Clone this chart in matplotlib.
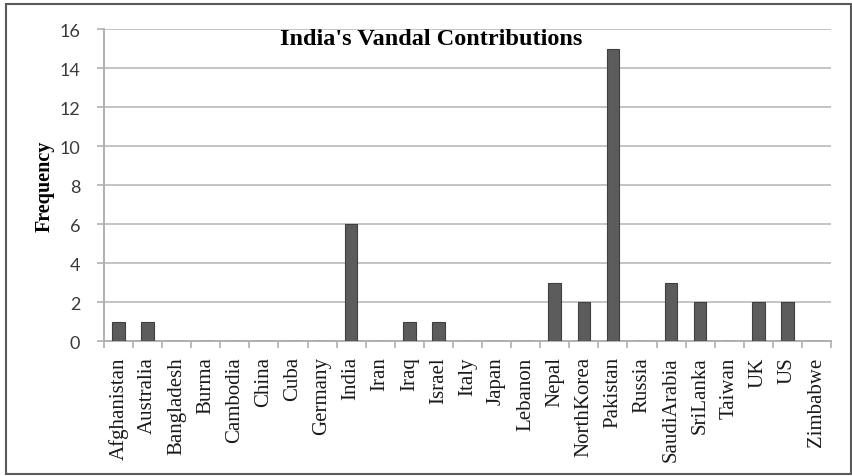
import matplotlib
matplotlib.use("Agg")
import matplotlib.pyplot as plt
from matplotlib.patches import Rectangle
import numpy as np

countries = ["Afghanistan", "Australia", "Bangladesh", "Burma", "Cambodia", "China",
             "Cuba", "Germany", "India", "Iran", "Iraq", "Israel", "Italy", "Japan",
             "Lebanon", "Nepal", "NorthKorea", "Pakistan", "Russia", "SaudiArabia",
             "SriLanka", "Taiwan", "UK", "US", "Zimbabwe"]
frequency = [1, 1, 0, 0, 0, 0, 0, 0, 6, 0, 1, 1, 0, 0, 0, 3, 2, 15, 0, 3, 2, 0, 2, 2, 0]
y_ticks = [0, 2, 4, 6, 8, 10, 12, 14, 16]

fig = plt.figure(figsize=(8.53, 4.77), dpi=100)
fig.patch.set_facecolor("white")

# chart frame
fig.patches.append(Rectangle((0.0075, 0.0045), 0.990, 0.985, transform=fig.transFigure,
                             fill=False, edgecolor="#5a5a5a", linewidth=1.5))

ax = fig.add_axes([0.1219, 0.283, 0.8523, 0.654])
x = np.arange(len(countries))
ax.bar(x, frequency, width=0.43, color="#5c5c5c", edgecolor="#3f3f3f",
       linewidth=0.8, zorder=3)

ax.set_xlim(-0.5, len(countries) - 0.5)
ax.set_ylim(0, 16)
ax.set_yticks(y_ticks)
ax.set_yticklabels([str(v) for v in y_ticks], fontfamily="Lato", fontsize=13,
                   color="#3a3a3a")
ax.yaxis.grid(True, color="#c4c4c4", linewidth=1.4, zorder=0)
ax.set_axisbelow(True)

# category boundaries carry the x ticks
ax.set_xticks(np.arange(len(countries) + 1) - 0.5)
ax.set_xticklabels([])
ax.set_xticks(x, minor=True)
ax.set_xticklabels(countries, minor=True, rotation=90, fontfamily="Liberation Serif",
                   fontsize=15, color="#1a1a1a", va="top", ha="center")
ax.tick_params(axis="x", which="minor", length=0, pad=11)
ax.tick_params(axis="x", which="major", length=5, width=1.2, color="#b0b0b0",
               direction="out")
ax.tick_params(axis="y", length=5, width=1.2, color="#b0b0b0", direction="out", pad=12)

for side in ("top", "right"):
    ax.spines[side].set_visible(False)
for side in ("left", "bottom"):
    ax.spines[side].set_color("#b0b0b0")
    ax.spines[side].set_linewidth(1.4)

fig.text(0.0528, 0.610, "Frequency", rotation=90, ha="center", va="center",
         fontfamily="Liberation Serif", fontweight="bold", fontsize=14.5)
fig.text(0.505, 0.918, "India's Vandal Contributions", ha="center", va="center",
         fontfamily="Liberation Serif", fontweight="bold", fontsize=17.5)

fig.savefig("out.png", dpi=100, facecolor="white")
